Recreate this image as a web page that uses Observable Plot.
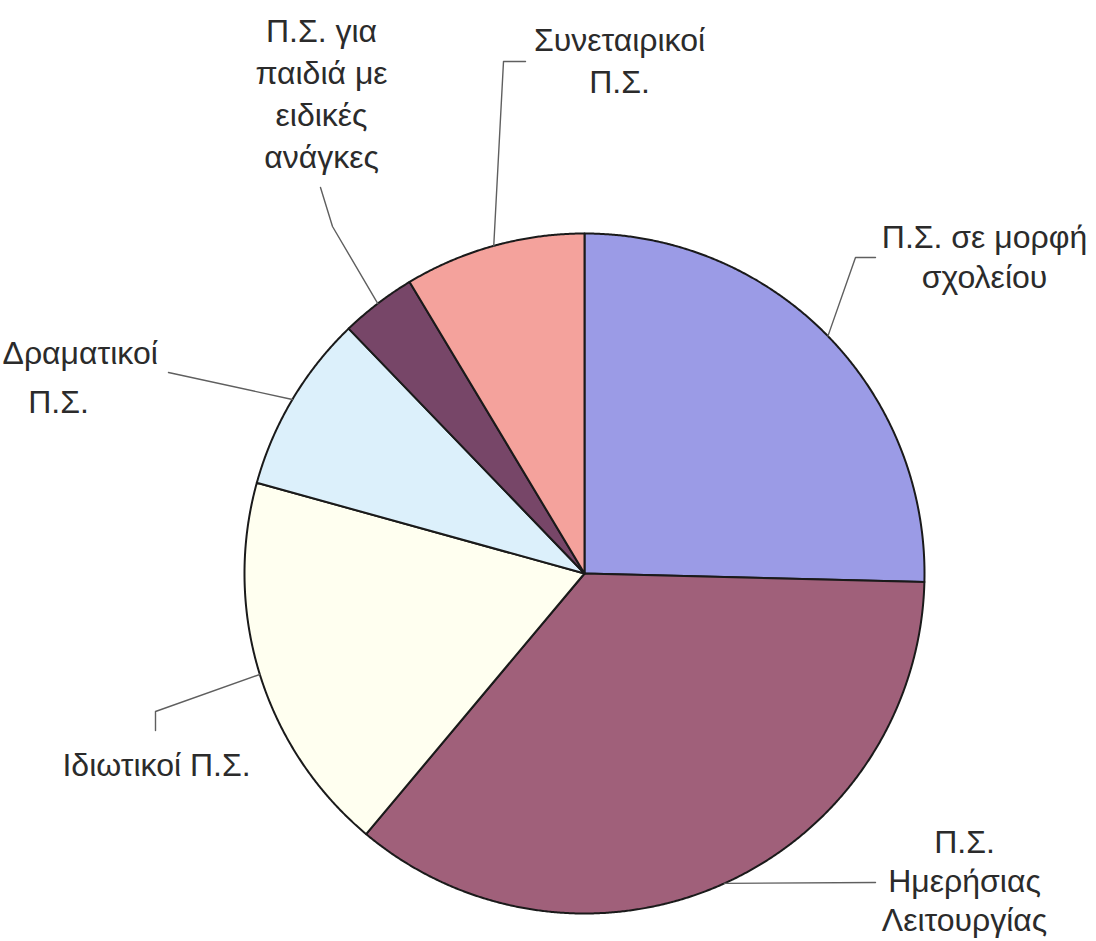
<!DOCTYPE html>
<html><head><meta charset="utf-8">
<script src="https://cdn.jsdelivr.net/npm/d3@7"></script>
<script src="https://cdn.jsdelivr.net/npm/@observablehq/plot@0.6"></script>
<style>html,body{margin:0;padding:0;background:#fff;overflow:hidden}</style>
</head><body><div id="chart"></div>
<script>
// ---- data ----
const categories = [
  "Π.Σ. σε μορφή σχολείου",
  "Π.Σ. Ημερήσιας Λειτουργίας",
  "Ιδιωτικοί Π.Σ.",
  "Δραματικοί Π.Σ.",
  "Π.Σ. για παιδιά με ειδικές ανάγκες",
  "Συνεταιρικοί Π.Σ."
];
const shares = [25.4, 35.7, 18.2, 8.5, 3.6, 8.6];
const sliceColors = ["#9b9be6", "#a0607a", "#fffff0", "#dcf0fb", "#774668", "#f4a29c"];
const labelLines = [
  ["Π.Σ. σε μορφή", "σχολείου"],
  ["Π.Σ.", "Ημερήσιας", "Λειτουργίας"],
  ["Ιδιωτικοί Π.Σ."],
  ["Δραματικοί", "Π.Σ."],
  ["Π.Σ. για", "παιδιά με", "ειδικές", "ανάγκες"],
  ["Συνεταιρικοί", "Π.Σ."]
];

// ---- layout ----
const W = 1096, H = 941, CX = 584, CY = 573, R = 340, FS = 32;
const labelLayout = [
  {x: [984], y: 247, gap: 40, anchor: ["middle"], elbows: [[855, 257], [875, 257]]},
  {x: [964], y: 852, gap: 39, anchor: ["middle"], elbows: [[875, 882]]},
  {x: [156], y: 775, gap: 0, anchor: ["middle"], elbows: [[155, 711], [155, 730]]},
  {x: [2, 58], y: 363, gap: 49, anchor: ["start", "middle"], elbows: [[168, 372]]},
  {x: [321], y: 41, gap: 42, anchor: ["middle"], elbows: [[332, 226], [320, 187]]},
  {x: [619], y: 50, gap: 42, anchor: ["middle"], elbows: [[503, 61], [525, 61]]}
];

const rows = categories.map((name, i) => ({name, value: shares[i]}));
const arcs = d3.pie().sort(null).value(d => d.value)(rows);
const px = a => CX + R * Math.sin(a);
const py = a => CY - R * Math.cos(a);

const slicePts = [];
arcs.forEach(a => {
  slicePts.push({name: a.data.name, x: CX, y: CY});
  const n = Math.max(2, Math.ceil((a.endAngle - a.startAngle) / (Math.PI / 720)));
  for (let k = 0; k <= n; k++) {
    const t = a.startAngle + (a.endAngle - a.startAngle) * k / n;
    slicePts.push({name: a.data.name, x: px(t), y: py(t)});
  }
});

const leaderPts = [];
const textRows = [];
arcs.forEach((a, i) => {
  const mid = (a.startAngle + a.endAngle) / 2;
  const L = labelLayout[i];
  leaderPts.push({name: a.data.name, x: px(mid), y: py(mid)});
  L.elbows.forEach(([ex, ey]) => leaderPts.push({name: a.data.name, x: ex, y: ey}));
  labelLines[i].forEach((t, j) => {
    textRows.push({
      t,
      x: L.x[Math.min(j, L.x.length - 1)],
      y: L.y + j * L.gap - 0.32 * FS,
      anchor: L.anchor[Math.min(j, L.anchor.length - 1)]
    });
  });
});

const textOpts = {x: "x", y: "y", text: "t", fontSize: FS, fill: "#2b2b2b",
  fontFamily: "'Liberation Sans', Arial, sans-serif", lineAnchor: "middle"};

const chart = Plot.plot({
  width: W, height: H, margin: 0,
  x: {domain: [0, W], range: [0, W], axis: null},
  y: {domain: [0, H], range: [0, H], axis: null},
  color: {domain: categories, range: sliceColors},
  style: {background: "#fff", overflow: "visible"},
  marks: [
    Plot.line(slicePts, {x: "x", y: "y", z: "name", fill: "name", stroke: "#1a1a1a",
      strokeWidth: 2, curve: "linear-closed", strokeLinejoin: "round"}),
    Plot.line(leaderPts, {x: "x", y: "y", z: "name", stroke: "#5f5f5f", strokeWidth: 1.4}),
    Plot.text(textRows.filter(d => d.anchor === "middle"), {...textOpts, textAnchor: "middle"}),
    Plot.text(textRows.filter(d => d.anchor === "start"), {...textOpts, textAnchor: "start"})
  ]
});
document.getElementById("chart").append(chart);
</script>
</body></html>
